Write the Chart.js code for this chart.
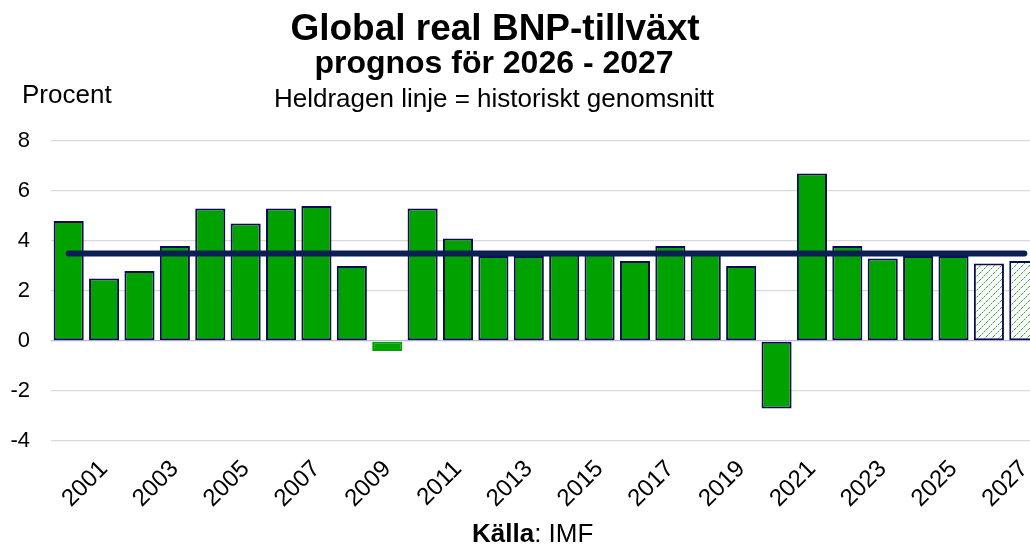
<!DOCTYPE html>
<html>
<head>
<meta charset="utf-8">
<script src="https://cdn.jsdelivr.net/npm/chart.js@4.4.1/dist/chart.umd.min.js"></script>
<style>
  html, body { margin: 0; padding: 0; overflow: hidden; background: #fff; }
</style>
</head>
<body>
<canvas id="bnpChart" width="1042" height="550"></canvas>
<script>
// data
const years = ['2000', '2001', '2002', '2003', '2004', '2005', '2006', '2007', '2008', '2009',
  '2010', '2011', '2012', '2013', '2014', '2015', '2016', '2017', '2018', '2019',
  '2020', '2021', '2022', '2023', '2024', '2025', '2026', '2027'];
const growth = [4.8, 2.5, 2.8, 3.8, 5.3, 4.7, 5.3, 5.4, 3.0, -0.4,
  5.3, 4.1, 3.4, 3.4, 3.5, 3.5, 3.2, 3.8, 3.6, 3.0,
  -2.7, 6.7, 3.8, 3.3, 3.4, 3.4, 3.1, 3.2];
const forecastYears = ['2026', '2027'];
const historicalAvg = 3.5;
const yTicks = [-4, -2, 0, 2, 4, 6, 8];

const green = '#00a200';
const navy = '#0a0a55';
const lineNavy = '#0b1f52';
const FONT = '"Liberation Sans", Arial, sans-serif';

// hatched fill for the forecast bars
function makeHatch() {
  const n = 7;
  const c = document.createElement('canvas');
  c.width = n; c.height = n;
  const g = c.getContext('2d');
  g.fillStyle = '#ffffff';
  g.fillRect(0, 0, n, n);
  for (let i = 0; i < n; i++) {
    g.fillStyle = i % 2 === 0 ? '#2eb12e' : '#a8dda8';
    g.fillRect(i, n - 1 - i, 1, 1);
  }
  return g.createPattern(c, 'repeat');
}
const hatch = makeHatch();

const headerText = {
  id: 'headerText',
  afterDraw(chart) {
    const ctx = chart.ctx;
    ctx.save();
    ctx.fillStyle = '#000';
    ctx.textBaseline = 'alphabetic';
    ctx.textAlign = 'center';
    ctx.font = 'bold 37px ' + FONT;
    ctx.fillText('Global real BNP-tillväxt', 495, 40);
    ctx.font = 'bold 32px ' + FONT;
    ctx.fillText('prognos för 2026 - 2027', 494, 73);
    ctx.font = '26px ' + FONT;
    ctx.fillText('Heldragen linje = historiskt genomsnitt', 494, 107);
    ctx.textAlign = 'left';
    ctx.font = '26px ' + FONT;
    ctx.fillText('Procent', 22, 103);
    // source line
    ctx.font = 'bold 26px ' + FONT;
    ctx.fillText('Källa', 472, 542);
    const w = ctx.measureText('Källa').width;
    ctx.font = '26px ' + FONT;
    ctx.fillText(': IMF', 472 + w, 542);
    ctx.restore();
  }
};

const config = {
  data: {
    labels: years,
    datasets: [
      {
        type: 'line',
        label: 'Historiskt genomsnitt',
        data: [{ x: years[0], y: historicalAvg }, { x: years[years.length - 1], y: historicalAvg }],
        borderColor: lineNavy,
        borderWidth: 6,
        borderCapStyle: 'round',
        pointRadius: 0,
        order: 0
      },
      {
        type: 'bar',
        label: 'BNP-tillväxt',
        data: growth,
        backgroundColor: ctx => forecastYears.includes(years[ctx.dataIndex]) ? hatch : green,
        borderColor: ctx => Math.abs(ctx.raw) < 0.5 ? green : navy,
        borderWidth: 2,
        borderSkipped: false,
        barPercentage: 0.85,
        categoryPercentage: 1.0,
        order: 1
      }
    ]
  },
  options: {
    responsive: false,
    animation: false,
    layout: { padding: { top: 141, right: 0, bottom: 0, left: 0 } },
    plugins: {
      legend: { display: false },
      tooltip: { enabled: false }
    },
    scales: {
      x: {
        grid: { display: false, drawTicks: false },
        border: { display: false },
        afterFit(scale) {
          scale.height = 109;
          scale.paddingLeft = 0;
          scale.paddingRight = 0;
        },
        ticks: {
          autoSkip: false,
          minRotation: 45,
          maxRotation: 45,
          padding: 14,
          labelOffset: 0,
          color: '#000',
          font: { family: FONT, size: 24 },
          callback(value) {
            const y = this.getLabelForValue(value);
            return Number(y) % 2 === 1 ? y : '';
          }
        }
      },
      y: {
        min: yTicks[0],
        max: yTicks[yTicks.length - 1],
        afterBuildTicks(scale) { scale.ticks = yTicks.map(v => ({ value: v })); },
        afterFit(scale) { scale.width = 51; },
        border: { display: false },
        grid: {
          drawTicks: false,
          lineWidth: 1.3,
          color: ctx => ctx.tick && ctx.tick.value === 0 ? '#b9b9cf' : '#d9d9d9'
        },
        ticks: {
          padding: 21,
          color: '#000',
          font: { family: FONT, size: 22 }
        }
      }
    }
  },
  plugins: [headerText]
};

const bnpChart = new Chart(document.getElementById('bnpChart').getContext('2d'), config);
</script>
</body>
</html>
